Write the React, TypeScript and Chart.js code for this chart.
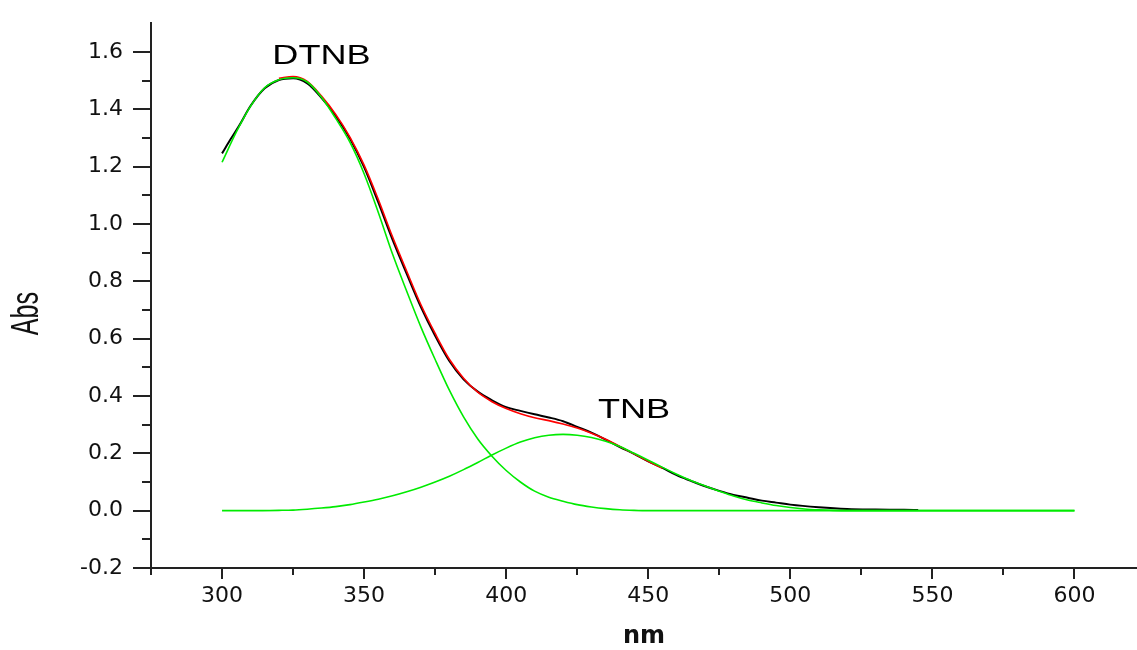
import { useEffect, useRef } from 'react';
import { Chart, registerables } from 'chart.js';

Chart.register(...registerables);

// Experimental spectrum (black)
const wavelengthsExp = [300, 303, 306, 310, 315, 320, 325, 330, 335, 340, 345, 350, 355, 360, 365, 370, 375, 380, 385, 390, 395, 400, 405, 410, 415, 420, 425, 430, 435, 440, 445, 450, 455, 460, 465, 470, 475, 480, 485, 490, 495, 500, 510, 520, 530, 540, 545];
const absExp = [1.246, 1.295, 1.342, 1.411, 1.473, 1.502, 1.508, 1.49, 1.44, 1.377, 1.298, 1.198, 1.075, 0.945, 0.826, 0.71, 0.61, 0.522, 0.458, 0.415, 0.385, 0.361, 0.348, 0.336, 0.325, 0.312, 0.292, 0.272, 0.248, 0.222, 0.198, 0.172, 0.149, 0.124, 0.104, 0.085, 0.069, 0.055, 0.045, 0.035, 0.028, 0.021, 0.012, 0.006, 0.004, 0.003, 0.002];

// Cumulative fit (red)
const wavelengthsFit = [320, 325, 330, 335, 340, 345, 350, 355, 360, 365, 370, 375, 380, 385, 390, 395, 400, 405, 410, 415, 420, 425, 430, 435, 440, 445, 450, 455];
const absFit = [1.508, 1.514, 1.497, 1.446, 1.382, 1.303, 1.205, 1.085, 0.955, 0.835, 0.718, 0.618, 0.528, 0.462, 0.413, 0.38, 0.356, 0.338, 0.324, 0.314, 0.302, 0.288, 0.27, 0.249, 0.224, 0.198, 0.172, 0.148];

// DTNB component (green)
const wavelengthsDTNB = [300, 305, 310, 315, 320, 325, 330, 335, 340, 345, 350, 355, 360, 365, 370, 375, 380, 385, 390, 395, 400, 405, 410, 415, 420, 425, 430, 435, 440, 445, 450, 600];
const absDTNB = [1.215, 1.32, 1.41, 1.475, 1.503, 1.51, 1.495, 1.442, 1.368, 1.285, 1.175, 1.04, 0.895, 0.765, 0.64, 0.527, 0.42, 0.327, 0.25, 0.19, 0.14, 0.1, 0.068, 0.047, 0.033, 0.021, 0.013, 0.007, 0.003, 0.001, 0, 0];

// TNB component (green)
const wavelengthsTNB = [300, 310, 320, 325, 330, 335, 340, 345, 350, 355, 360, 365, 370, 375, 380, 385, 390, 395, 400, 405, 410, 415, 420, 425, 430, 435, 440, 445, 450, 455, 460, 465, 470, 475, 480, 485, 490, 495, 500, 505, 510, 515, 520, 600];
const absTNB = [0, 0, 0.001, 0.002, 0.005, 0.009, 0.014, 0.021, 0.03, 0.04, 0.052, 0.066, 0.082, 0.1, 0.12, 0.143, 0.168, 0.194, 0.218, 0.239, 0.254, 0.263, 0.266, 0.263, 0.255, 0.242, 0.224, 0.2, 0.176, 0.151, 0.127, 0.105, 0.086, 0.068, 0.051, 0.037, 0.027, 0.018, 0.011, 0.006, 0.003, 0.001, 0, 0];

// Peak annotations
const annotationLabels = ['DTNB', 'TNB'];
const annotationX = [335, 445];
const annotationY = [1.585, 0.35];

const xTitle = 'nm';
const yTitle = 'Abs';

const AXIS_COLOR = '#222';
const TEXT_COLOR = '#111';
const GREEN = 'rgb(0,235,0)';

const toPoints = (xs: number[], ys: number[]) => xs.map((x, i) => ({ x, y: ys[i] }));

const axisTicksPlugin = {
  id: 'axisTicks',
  afterDraw(chart: any) {
    const { ctx, scales } = chart;
    const x = scales.x;
    const y = scales.y;
    ctx.save();
    ctx.strokeStyle = AXIS_COLOR;
    ctx.lineWidth = 2;
    x.ticks.forEach((t: any) => {
      const v = t.value;
      if (Math.abs(v / 25 - Math.round(v / 25)) > 1e-6) return;
      const px = Math.round(x.getPixelForValue(v));
      const major = Math.round(v) % 50 === 0;
      ctx.beginPath();
      ctx.moveTo(px, y.bottom);
      ctx.lineTo(px, y.bottom + (major ? 11 : 7));
      ctx.stroke();
    });
    y.ticks.forEach((t: any) => {
      const v = t.value;
      const k = Math.round(v * 10);
      if (Math.abs(v * 10 - k) > 1e-6 || k > 16) return;
      const py = Math.round(y.getPixelForValue(v));
      const major = k % 2 === 0;
      ctx.beginPath();
      ctx.moveTo(x.left, py);
      ctx.lineTo(x.left - (major ? 18 : 9), py);
      ctx.stroke();
    });
    ctx.restore();
  },
};

const textPlugin = {
  id: 'textLabels',
  afterDatasetsDraw(chart: any) {
    const { ctx, scales, chartArea } = chart;
    const x = scales.x;
    const y = scales.y;
    ctx.save();
    ctx.fillStyle = '#000';
    ctx.textAlign = 'center';
    ctx.textBaseline = 'middle';
    ctx.font = '28px "Liberation Sans", Arial, sans-serif';
    annotationLabels.forEach((label, i) => {
      const px = x.getPixelForValue(annotationX[i]);
      const py = y.getPixelForValue(annotationY[i]);
      ctx.save();
      ctx.translate(px, py);
      ctx.scale(1.29, 1);
      ctx.fillText(label, 0, 0);
      ctx.restore();
    });
    // y-axis title
    ctx.save();
    ctx.fillStyle = TEXT_COLOR;
    ctx.translate(28, (chartArea.top + chartArea.bottom) / 2 + 18);
    ctx.rotate(-Math.PI / 2);
    ctx.scale(0.66, 1);
    ctx.font = '38px "Liberation Sans", Arial, sans-serif';
    ctx.fillText(yTitle, 0, 0);
    ctx.restore();
    ctx.restore();
  },
};

export default function App() {
  const canvasRef = useRef<HTMLCanvasElement>(null);

  useEffect(() => {
    if (!canvasRef.current) return;
    const chart = new Chart(canvasRef.current, {
      type: 'line',
      data: {
        datasets: [
          {
            label: 'DTNB',
            data: toPoints(wavelengthsDTNB, absDTNB),
            borderColor: GREEN,
            borderWidth: 1.6,
            pointRadius: 0,
            fill: false,
            cubicInterpolationMode: 'monotone',
          },
          {
            label: 'TNB',
            data: toPoints(wavelengthsTNB, absTNB),
            borderColor: GREEN,
            borderWidth: 1.6,
            pointRadius: 0,
            fill: false,
            cubicInterpolationMode: 'monotone',
          },
          {
            label: 'Fit',
            data: toPoints(wavelengthsFit, absFit),
            borderColor: '#ff0000',
            borderWidth: 1.6,
            pointRadius: 0,
            fill: false,
            cubicInterpolationMode: 'monotone',
          },
          {
            label: 'Experimental',
            data: toPoints(wavelengthsExp, absExp),
            borderColor: '#000000',
            borderWidth: 2,
            pointRadius: 0,
            fill: false,
            cubicInterpolationMode: 'monotone',
          },
        ],
      },
      options: {
        animation: false,
        responsive: true,
        maintainAspectRatio: false,
        layout: { padding: { top: 16, left: 0, right: 0, bottom: 0 } },
        plugins: {
          legend: { display: false },
          tooltip: { enabled: false },
        },
        scales: {
          x: {
            type: 'linear',
            min: 275,
            max: 622,
            afterFit: (s: any) => {
              s.height = 82;
            },
            border: { display: true, color: AXIS_COLOR, width: 2 },
            grid: {
              display: true,
              drawOnChartArea: false,
              drawTicks: true,
              tickLength: 10,
              color: 'rgba(0,0,0,0)',
            },
            ticks: {
              stepSize: 25,
              includeBounds: false,
              autoSkip: false,
              maxRotation: 0,
              minRotation: 0,
              padding: 5,
              color: TEXT_COLOR,
              font: { family: '"DejaVu Sans", sans-serif', size: 22 },
              callback: (v: any) => {
                const n = Number(v);
                return Math.abs(n - Math.round(n)) < 1e-6 && Math.round(n) % 50 === 0 ? String(Math.round(n)) : '';
              },
            },
            title: {
              display: true,
              text: xTitle,
              color: TEXT_COLOR,
              font: { family: '"DejaVu Sans", sans-serif', size: 24, weight: 'bold', lineHeight: 1 },
              padding: { top: 0, bottom: 1 },
            },
          },
          y: {
            type: 'linear',
            min: -0.2,
            max: 1.7,
            afterFit: (s: any) => {
              s.width = 151;
            },
            border: { display: true, color: AXIS_COLOR, width: 2 },
            grid: {
              display: true,
              drawOnChartArea: false,
              drawTicks: true,
              tickLength: 18,
              color: 'rgba(0,0,0,0)',
            },
            ticks: {
              stepSize: 0.1,
              includeBounds: false,
              autoSkip: false,
              padding: 10,
              color: TEXT_COLOR,
              font: { family: '"DejaVu Sans", sans-serif', size: 22 },
              callback: (v: any) => {
                const k = Math.round(Number(v) * 10);
                return k % 2 === 0 && k <= 16 ? (k / 10).toFixed(1) : '';
              },
            },
            title: { display: false },
          },
        },
      },
      plugins: [axisTicksPlugin, textPlugin],
    } as any);
    return () => chart.destroy();
  }, []);

  return (
    <div style={{ position: 'fixed', left: 0, top: 0, width: 1137, height: 650, background: '#fff' }}>
      <canvas ref={canvasRef} />
    </div>
  );
}
